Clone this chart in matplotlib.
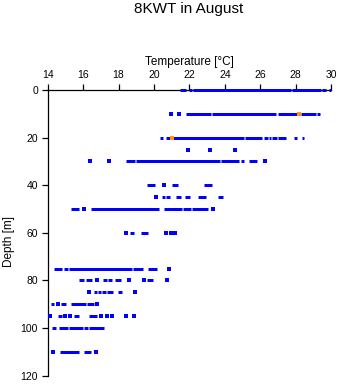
import matplotlib
matplotlib.use("Agg")
import matplotlib.pyplot as plt

plt.rcParams['font.family'] = ['Liberation Sans', 'DejaVu Sans']

# depth levels [m]
depths = [0, 10, 20, 25, 30, 40, 45, 50, 60, 75, 80, 85, 90, 95, 100, 110]

# temperature ranges [degC] densely covered by readings at each depth
ranges = [
    [(21.48, 21.82), (22.0, 22.15), (22.23, 27.72), (27.8, 29.43), (29.5, 29.73), (29.88, 30.02)],
    [(21.81, 23.2), (23.28, 26.87), (27.0, 28.15), (28.29, 29.15), (29.2, 29.36)],
    [(20.33, 20.53), (20.68, 20.94), (21.08, 25.1), (25.14, 26.08), (26.2, 26.42),
     (26.5, 26.6), (26.65, 26.93), (27.0, 27.44), (27.9, 28.08), (28.34, 28.49)],
    [],
    [(18.42, 18.93), (18.99, 23.72), (23.79, 24.82), (24.93, 25.1), (25.37, 25.8)],
    [(19.6, 20.07), (21.04, 21.37), (22.82, 23.29)],
    [(20.44, 20.62), (20.68, 20.92), (21.23, 21.53), (21.74, 22.03), (22.48, 22.94), (23.63, 23.9)],
    [(15.32, 15.75), (16.43, 20.28), (20.57, 21.57), (21.64, 22.09), (22.15, 23.07)],
    [(18.65, 18.9), (19.27, 19.64)],
    [(14.33, 14.8), (14.9, 15.15), (15.2, 18.74), (18.8, 19.4), (19.66, 20.15)],
    [(15.75, 16.03), (16.16, 16.5), (17.12, 17.35), (17.4, 17.65), (17.78, 18.14), (19.59, 19.96)],
    [(16.6, 16.78), (16.84, 17.0), (17.07, 17.3), (17.35, 17.67), (17.97, 18.2)],
    [(14.19, 14.37), (14.75, 15.05), (15.32, 16.16), (16.2, 16.6)],
    [(14.56, 14.8), (15.47, 15.78), (16.31, 16.78)],
    [(14.24, 14.47), (14.66, 15.13), (15.19, 15.99), (16.07, 16.28), (16.33, 17.2)],
    [(14.68, 15.75), (16.07, 16.44)],
]

# isolated readings at each depth
singles = [
    [],
    [20.98, 21.43],
    [],
    [21.95, 23.18, 24.55],
    [16.38, 17.45, 26.29],
    [20.58],
    [20.14],
    [16.06, 23.36],
    [18.4, 20.7, 20.97, 21.2],
    [20.87],
    [16.81, 18.57, 19.45, 20.75],
    [16.35, 18.95],
    [14.6, 16.8],
    [14.15, 14.99, 15.28, 17.03, 17.35, 17.63, 18.42, 18.89],
    [],
    [14.28, 16.74],
]

# highlighted readings (orange)
orange_temp = [28.22, 21.03]
orange_depth = [10, 20]

BLUE = '#0000ff'
ORANGE = '#ff9900'

fig = plt.figure(figsize=(3.41, 3.84), dpi=100)
ax = fig.add_axes([0.1399, 0.0216, 0.8308, 0.744])

lw = 2.16  # ~3 px
for d, segs, pts in zip(depths, ranges, singles):
    for t0, t1 in segs:
        ax.plot([t0, t1], [d, d], color=BLUE, lw=lw, solid_capstyle='butt',
                clip_on=False, zorder=5)
    if pts:
        ax.plot(pts, [d] * len(pts), 's', color=BLUE, ms=2.2, mew=0, ls='none',
                clip_on=False, zorder=5)
ax.plot(orange_temp, orange_depth, 's', color=ORANGE, ms=2.2, mew=0, ls='none',
        clip_on=False, zorder=6)

ax.set_xlim(14, 30)
ax.set_ylim(120, 0)
ax.xaxis.tick_top()
ax.xaxis.set_label_position('top')
ax.set_xticks(range(14, 31, 2))
ax.set_yticks(range(0, 121, 20))
ax.spines['right'].set_visible(False)
ax.spines['bottom'].set_visible(False)
ax.spines['top'].set_linewidth(0.9)
ax.spines['left'].set_linewidth(0.9)
ax.tick_params(direction='out', length=4, width=0.9, labelsize=7.5, pad=3)
ax.set_xlabel('Temperature [°C]', fontsize=8.5, labelpad=4)
ax.set_ylabel('Depth [m]', fontsize=8.5)
ax.yaxis.set_label_coords(-0.115, 0.47)
fig.text(0.553, 0.994, '8KWT in August', ha='center', va='top', fontsize=11)

plt.savefig('out.png', dpi=100)
plt.close()
